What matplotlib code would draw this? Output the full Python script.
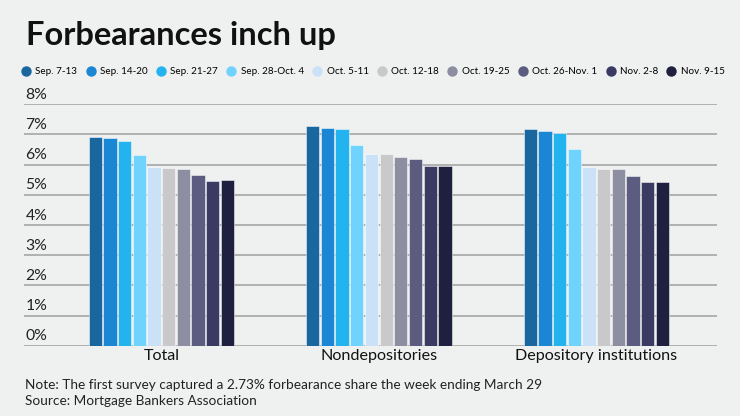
import numpy as np
import matplotlib.pyplot as plt
from matplotlib.lines import Line2D

# chart data
groups = ['Total', 'Nondepositories', 'Depository institutions']
weeks = ['Sep. 7-13', 'Sep. 14-20', 'Sep. 21-27', 'Sep. 28-Oct. 4', 'Oct. 5-11',
         'Oct. 12-18', 'Oct. 19-25', 'Oct. 26-Nov. 1', 'Nov. 2-8', 'Nov. 9-15']
total = [6.93, 6.87, 6.80, 6.31, 5.92, 5.90, 5.84, 5.67, 5.47, 5.48]
nondep = [7.27, 7.23, 7.19, 6.66, 6.35, 6.36, 6.27, 6.19, 5.94, 5.94]
dep = [7.19, 7.12, 7.04, 6.53, 5.93, 5.86, 5.86, 5.61, 5.43, 5.44]
yticks = [0, 1, 2, 3, 4, 5, 6, 7, 8]

colors = ['#1a67a0', '#1b86d3', '#23b4ef', '#70d3fd', '#cbe1f8',
          '#c9c9cb', '#8e8ea3', '#5b5c80', '#3a3a62', '#1f2040']
bg = '#eff0f0'
font = 'Lato'

values = np.array([total, nondep, dep])

fig = plt.figure(figsize=(7.4, 4.16), dpi=100, facecolor=bg)
ax = fig.add_axes([23.5 / 740, 70.3 / 416, 693.2 / 740, 241.4 / 416], facecolor=bg)

step = 0.0675
width = 0.061
x = np.arange(len(groups))
for k in range(len(weeks)):
    ax.bar(x + (k - 4.5) * step, values[:, k], width=width, color=colors[k],
           edgecolor='#ffffff80', linewidth=0.7, zorder=3, label=weeks[k])

ax.set_xlim(-0.6336, 2.5535)
ax.set_ylim(0, 8)
ax.set_yticks(yticks)
ax.yaxis.grid(True, color='#a0a0a0', linewidth=1.1, zorder=0)
ax.tick_params(axis='both', length=0, labelleft=False, labelbottom=False)
for s in ax.spines.values():
    s.set_visible(False)

for t in yticks:
    ax.text(0.003, t + 0.08, f'{t}%', transform=ax.get_yaxis_transform(),
            ha='left', va='bottom', fontsize=11.3, family=font, color='#222222')

for i, g in enumerate(groups):
    ax.text(x[i], -0.12, g, ha='center', va='top', fontsize=11.6, family=font,
            color='#111111')

fig.text(26 / 740, 1 - 45 / 416, 'Forbearances inch up', fontsize=23.5,
         family=font, weight='bold', color='#111111', ha='left', va='baseline')

handles = [Line2D([], [], marker='o', linestyle='none', markersize=7.5,
                  markerfacecolor=c, markeredgecolor='none') for c in colors]
fig.legend(handles, weeks, ncol=10, loc='center', bbox_to_anchor=(373 / 740, 1 - 72 / 416),
           frameon=False, handletextpad=0.45, columnspacing=0.85,
           handlelength=1.0, prop={'family': font, 'size': 7.1})

fig.text(25 / 740, 1 - 389 / 416,
         'Note: The first survey captured a 2.73% forbearance share the week ending March 29',
         fontsize=9.8, family=font, color='#222222', va='baseline')
fig.text(25 / 740, 1 - 405 / 416, 'Source: Mortgage Bankers Association',
         fontsize=9.8, family=font, color='#222222', va='baseline')

fig.savefig('out.png', dpi=100, facecolor=bg)
